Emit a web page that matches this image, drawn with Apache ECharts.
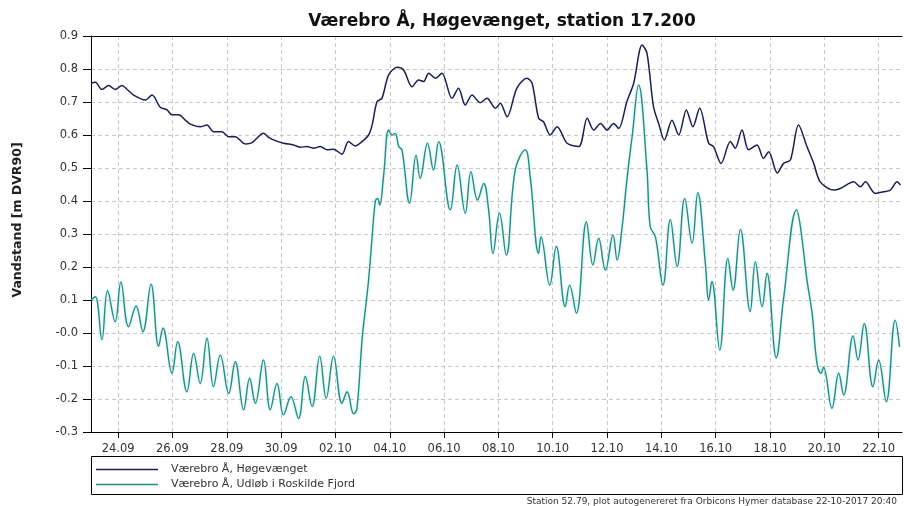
<!DOCTYPE html>
<html>
<head>
<meta charset="utf-8">
<script src="https://cdn.jsdelivr.net/npm/echarts@6/dist/echarts.min.js"></script>
<style>
  html, body { margin: 0; padding: 0; background: #fff; }
  #chart { width: 904px; height: 506px; }
</style>
</head>
<body>
<div id="chart"></div>
<script>
// x = dage regnet fra 23.09.2017 00:00
const startDate = Date.UTC(2017, 8, 23);

const tickDays = [1, 3, 5, 7, 9, 11, 13, 15, 17, 19, 21, 23, 25, 27, 29];
const tickLabels = ['24.09', '26.09', '28.09', '30.09', '02.10', '04.10', '06.10', '08.10',
  '10.10', '12.10', '14.10', '16.10', '18.10', '20.10', '22.10'];

// Værebro Å, Høgevænget
const hogevaenget = [
  [0.00, 0.757], [0.16, 0.760], [0.40, 0.738], [0.65, 0.750], [0.89, 0.738], [1.14, 0.750],
  [1.33, 0.738], [1.57, 0.721], [2.00, 0.706], [2.25, 0.721], [2.55, 0.684], [2.80, 0.676],
  [2.98, 0.661], [3.23, 0.661], [3.47, 0.645], [3.66, 0.633], [4.02, 0.625], [4.27, 0.630],
  [4.51, 0.610], [4.82, 0.610], [5.07, 0.595], [5.31, 0.595], [5.68, 0.573], [5.93, 0.577],
  [6.35, 0.605], [6.54, 0.593], [6.79, 0.583], [7.09, 0.575], [7.46, 0.570], [7.71, 0.563],
  [7.95, 0.565], [8.20, 0.560], [8.44, 0.565], [8.69, 0.555], [8.93, 0.557], [9.24, 0.542],
  [9.48, 0.580], [9.73, 0.567], [9.98, 0.580], [10.22, 0.600], [10.35, 0.630], [10.53, 0.701],
  [10.71, 0.711], [10.96, 0.782], [11.27, 0.805], [11.51, 0.797], [11.82, 0.746], [12.06, 0.767],
  [12.25, 0.762], [12.43, 0.787], [12.68, 0.772], [12.92, 0.787], [13.29, 0.711], [13.53, 0.742],
  [13.78, 0.691], [14.03, 0.721], [14.33, 0.698], [14.58, 0.711], [14.89, 0.681], [15.07, 0.696],
  [15.32, 0.655], [15.68, 0.742], [16.05, 0.772], [16.24, 0.757], [16.48, 0.651], [16.66, 0.640],
  [16.91, 0.600], [17.16, 0.625], [17.53, 0.575], [17.96, 0.565], [18.27, 0.651], [18.51, 0.615],
  [18.76, 0.635], [19.00, 0.615], [19.24, 0.635], [19.43, 0.620], [19.73, 0.701], [19.98, 0.757],
  [20.29, 0.873], [20.47, 0.848], [20.71, 0.686], [20.90, 0.635], [21.11, 0.585], [21.39, 0.645],
  [21.64, 0.600], [21.92, 0.676], [22.16, 0.625], [22.41, 0.681], [22.74, 0.575], [22.92, 0.565],
  [23.20, 0.514], [23.54, 0.580], [23.72, 0.560], [23.97, 0.615], [24.21, 0.555], [24.52, 0.570],
  [24.76, 0.529], [24.95, 0.549], [25.27, 0.485], [25.50, 0.514], [25.75, 0.524], [26.05, 0.630],
  [26.36, 0.565], [26.61, 0.514], [26.85, 0.458], [27.34, 0.433], [27.59, 0.438], [28.08, 0.458],
  [28.33, 0.443], [28.51, 0.458], [28.88, 0.423], [29.18, 0.428], [29.43, 0.433], [29.68, 0.458],
  [29.80, 0.448]
];

// Værebro Å, Udløb i Roskilde Fjord
const udlob = [
  [0.00, 0.100], [0.16, 0.110], [0.40, -0.020], [0.61, 0.128], [0.89, 0.034], [1.10, 0.155],
  [1.38, 0.019], [1.66, 0.082], [1.91, 0.004], [2.21, 0.148], [2.49, -0.040], [2.65, 0.015],
  [2.98, -0.122], [3.19, -0.026], [3.53, -0.178], [3.78, -0.062], [4.02, -0.153], [4.27, -0.016],
  [4.51, -0.163], [4.76, -0.067], [5.07, -0.183], [5.31, -0.087], [5.62, -0.233], [5.84, -0.137],
  [6.05, -0.213], [6.35, -0.082], [6.60, -0.233], [6.85, -0.153], [7.09, -0.248], [7.36, -0.193],
  [7.64, -0.259], [7.89, -0.132], [8.14, -0.223], [8.42, -0.070], [8.66, -0.198], [8.93, -0.070],
  [9.24, -0.213], [9.43, -0.178], [9.67, -0.245], [9.79, -0.230], [9.98, -0.020], [10.10, 0.070],
  [10.22, 0.160], [10.35, 0.290], [10.47, 0.400], [10.55, 0.408], [10.63, 0.388], [10.77, 0.474],
  [10.96, 0.615], [11.08, 0.600], [11.20, 0.605], [11.33, 0.565], [11.45, 0.555], [11.73, 0.393],
  [11.97, 0.539], [12.12, 0.469], [12.39, 0.575], [12.61, 0.494], [12.80, 0.580], [13.23, 0.373],
  [13.48, 0.509], [13.78, 0.363], [13.99, 0.489], [14.23, 0.403], [14.46, 0.453], [14.64, 0.373],
  [14.80, 0.241], [15.04, 0.363], [15.29, 0.236], [15.62, 0.494], [15.99, 0.555], [16.17, 0.474],
  [16.48, 0.241], [16.57, 0.292], [16.89, 0.145], [17.13, 0.262], [17.46, 0.080], [17.62, 0.145],
  [17.87, 0.060], [18.24, 0.337], [18.48, 0.206], [18.69, 0.287], [18.94, 0.191], [19.22, 0.297],
  [19.37, 0.221], [19.55, 0.317], [19.73, 0.464], [19.93, 0.600], [20.16, 0.752], [20.47, 0.494],
  [20.59, 0.322], [20.78, 0.292], [21.06, 0.145], [21.33, 0.344], [21.58, 0.201], [21.86, 0.408],
  [22.13, 0.272], [22.34, 0.425], [22.62, 0.211], [22.74, 0.100], [22.86, 0.156], [23.15, -0.052],
  [23.45, 0.226], [23.64, 0.130], [23.91, 0.314], [24.27, 0.065], [24.46, 0.216], [24.71, 0.080],
  [24.89, 0.181], [25.23, -0.075], [25.50, 0.105], [25.98, 0.373], [26.12, 0.322], [26.36, 0.161],
  [26.55, 0.060], [26.73, -0.092], [26.88, -0.122], [26.97, -0.104], [27.28, -0.228], [27.53, -0.122],
  [27.71, -0.188], [28.06, -0.009], [28.24, -0.082], [28.47, 0.029], [28.79, -0.163], [29.00, -0.082],
  [29.28, -0.208], [29.61, 0.039], [29.77, -0.042]
];

const chart = echarts.init(document.getElementById('chart'));

const font = 'DejaVu Sans';
const gridLine = { color: '#c8c8c8', type: [4, 3], width: 1 };

const option = {
  animation: false,
  backgroundColor: '#fff',
  textStyle: { fontFamily: font },
  title: [
    {
      text: 'Værebro Å, Høgevænget, station 17.200',
      left: 497,
      top: 8,
      textAlign: 'center',
      textStyle: { fontFamily: font, fontSize: 17, fontWeight: 'bold', color: '#111' },
    },
    {
      text: 'Station 52.79, plot autogenereret fra Orbicons Hymer database 22-10-2017 20:40',
      right: 2,
      top: 492,
      textStyle: { fontFamily: font, fontSize: 9, fontWeight: 'normal', color: '#333' },
    },
  ],
  grid: { left: 91, right: 2, top: 36, bottom: 74 },
  legend: {
    orient: 'vertical',
    left: 91,
    top: 459,
    icon: 'rect',
    itemWidth: 62,
    itemHeight: 1.5,
    itemGap: 4,
    textStyle: { fontFamily: font, fontSize: 11, color: '#333', padding: [0, 0, 0, 8] },
    data: ['Værebro Å, Høgevænget', 'Værebro Å, Udløb i Roskilde Fjord'],
  },
  xAxis: [
    {
      type: 'value',
      min: 0,
      max: 29.86,
      interval: 2,
      position: 'bottom',
      axisLine: { onZero: false, lineStyle: { color: '#000', width: 1 } },
      axisTick: { customValues: tickDays, length: 6, lineStyle: { color: '#000' } },
      minorTick: { show: true, splitNumber: 2, length: 3, lineStyle: { color: '#000' } },
      axisLabel: {
        customValues: tickDays,
        margin: 11,
        fontFamily: font,
        fontSize: 11.5,
        color: '#333',
        formatter: (v) => tickLabels[tickDays.indexOf(Math.round(v))] || '',
      },
      splitLine: { show: true, customValues: tickDays, lineStyle: gridLine },
    },
    {
      type: 'value',
      min: 0,
      max: 29.86,
      position: 'top',
      axisLine: { show: true, onZero: false, lineStyle: { color: '#000', width: 1 } },
      axisTick: { show: false },
      axisLabel: { show: false },
      splitLine: { show: false },
    },
  ],
  yAxis: {
    type: 'value',
    min: -0.3,
    max: 0.9,
    interval: 0.1,
    axisLine: { show: true, onZero: false, lineStyle: { color: '#000', width: 1 } },
    axisTick: { show: true, length: 8, lineStyle: { color: '#000' } },
    axisLabel: {
      margin: 13,
      fontFamily: font,
      fontSize: 11.5,
      color: '#333',
      formatter: (v) => (Math.abs(v) < 1e-9 ? '-0.0' : v.toFixed(1)),
    },
    splitLine: { show: true, lineStyle: gridLine },
  },
  graphic: [
    {
      type: 'rect',
      shape: { x: 91.5, y: 456.5, width: 811, height: 38 },
      style: { fill: 'none', stroke: '#000', lineWidth: 1 },
      silent: true,
    },
    {
      type: 'text',
      x: 18,
      y: 220,
      rotation: Math.PI / 2,
      style: {
        text: 'Vandstand [m DVR90]',
        fontFamily: font,
        fontSize: 12.5,
        fontWeight: 'bold',
        fill: '#222',
        align: 'center',
        verticalAlign: 'middle',
      },
    },
  ],
  series: [
    {
      name: 'Værebro Å, Høgevænget',
      type: 'line',
      data: hogevaenget,
      symbol: 'none',
      smooth: 0.3,
      lineStyle: { color: '#1d1d52', width: 1.5 },
      itemStyle: { color: '#1d1d52' },
    },
    {
      name: 'Værebro Å, Udløb i Roskilde Fjord',
      type: 'line',
      data: udlob,
      symbol: 'none',
      smooth: 0.4,
      lineStyle: {
        color: '#2a8a80',
        width: 1.4,
        shadowColor: 'rgba(60, 210, 210, 0.45)',
        shadowBlur: 3,
      },
      itemStyle: { color: '#2a8a80' },
    },
  ],
};

chart.setOption(option);
</script>
</body>
</html>
